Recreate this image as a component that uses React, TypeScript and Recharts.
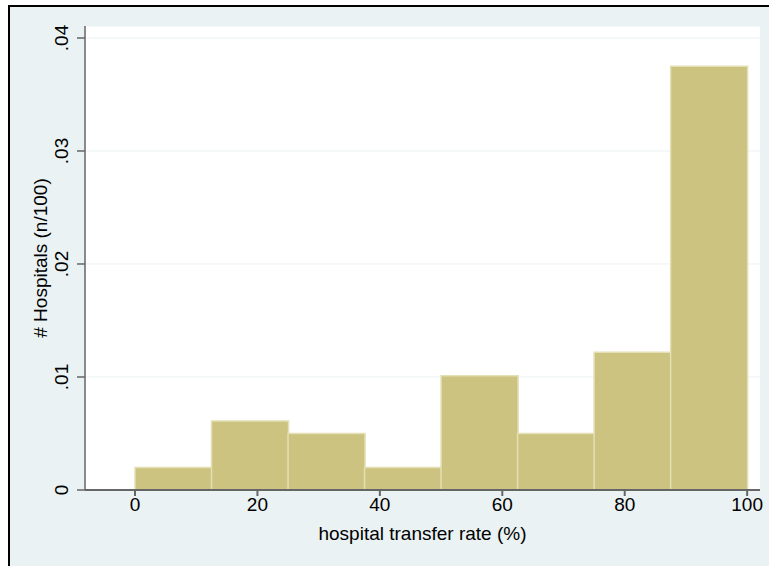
import { ComposedChart, Bar, XAxis, YAxis, CartesianGrid } from 'recharts';

// histogram bins (hospital transfer rate %), width 12.5
const binCenters = [6.25, 18.75, 31.25, 43.75, 56.25, 68.75, 81.25, 93.75];
const density = [0.002, 0.0061, 0.005, 0.002, 0.0101, 0.005, 0.0122, 0.0375];
const xTicks = [0, 20, 40, 60, 80, 100];
const yTicks = [0, 0.01, 0.02, 0.03, 0.04];
const yTickLabels = ['0', '.01', '.02', '.03', '.04'];

const data = binCenters.map((x, i) => ({ x, y: density[i] }));

const FONT = '"Liberation Sans", Arial, Helvetica, sans-serif';

function YTick(props: any) {
   const { x, y, payload } = props;
   const i = yTicks.indexOf(payload.value);
   return (
      <text
         x={x - 7}
         y={y}
         transform={`rotate(-90 ${x - 7} ${y})`}
         textAnchor='middle'
         fontSize={19}
         fontFamily={FONT}
         fill='#000'
      >
         {i >= 0 ? yTickLabels[i] : payload.value}
      </text>
   );
}

export default function App() {
   return (
      <div style={{ position: 'absolute', left: 0, top: 0, width: 769, height: 566, overflow: 'hidden', background: '#fff' }}>
         <div
            style={{
               position: 'absolute',
               left: 8,
               top: 5,
               width: 820,
               height: 620,
               border: '2px solid #000',
               background: '#eaf2f3'
            }}
         />
         <div style={{ position: 'absolute', left: 0, top: 0 }}>
            <ComposedChart
               width={769}
               height={566}
               data={data}
               margin={{ top: 26, right: 9, bottom: 0, left: 0 }}
               barCategoryGap={0}
               barGap={0}
            >
               <CartesianGrid horizontal vertical={false} stroke='#eaf2f3' fill='#fff' fillOpacity={1} />
               <XAxis
                  dataKey='x'
                  type='number'
                  domain={[-8.17, 102.1]}
                  ticks={xTicks}
                  allowDataOverflow
                  height={76}
                  stroke='#666'
                  strokeWidth={2}
                  tickSize={6}
                  tick={{ fill: '#000', fontSize: 19, fontFamily: FONT }}
                  label={{ value: 'hospital transfer rate (%)', position: 'insideBottom', offset: 26, fill: '#000', fontSize: 19, fontFamily: FONT }}
               />
               <YAxis
                  type='number'
                  domain={[0, 0.04106]}
                  ticks={yTicks}
                  allowDataOverflow
                  width={85}
                  stroke='#666'
                  strokeWidth={1.5}
                  tickSize={8}
                  tick={<YTick />}
                  label={{ value: '# Hospitals (n/100)', angle: -90, position: 'center', dx: -2, fill: '#000', fontSize: 19, fontFamily: FONT }}
               />
               <Bar dataKey='y' fill='#cbc37f' stroke='#e4dfb4' strokeWidth={1.5} isAnimationActive={false} />
            </ComposedChart>
         </div>
      </div>
   );
}
